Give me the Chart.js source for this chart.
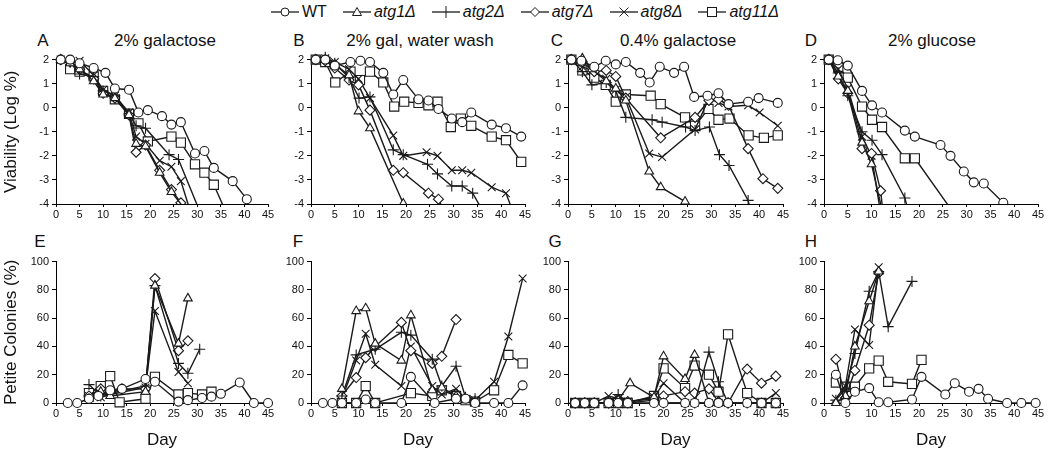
<!DOCTYPE html>
<html lang="en">
<head>
<meta charset="UTF-8">
<title>Viability and petite colonies of atg mutants</title>
<script src="https://cdn.jsdelivr.net/npm/chart.js"></script>
<style>
  body {
    margin: 0;
    width: 1050px;
    height: 451px;
    overflow: hidden;
    background: #fff;
    font-family: "Liberation Sans", Arial, sans-serif;
    color: #111;
    position: relative;
  }
  canvas { position: absolute; }
  .lbl {
    position: absolute;
    font-size: 17px;
    line-height: 1;
    transform: translate(-50%, -50%);
    white-space: nowrap;
  }
  #legend {
    position: absolute;
    top: 3px;
    left: 0;
    width: 1050px;
    display: flex;
    justify-content: center;
    align-items: center;
    font-size: 16px;
  }
  #legend .item { display: flex; align-items: center; margin: 0 8px; }
  #legend svg { margin-right: 3px; }
  #legend i { font-style: italic; }
</style>
</head>
<body>
  <div id="legend"></div>

  <div class="lbl" style="left:43px;top:40px">A</div>
  <div class="lbl" style="left:165px;top:40px">2% galactose</div>
  <div class="lbl" style="left:299px;top:40px">B</div>
  <div class="lbl" style="left:420px;top:40px">2% gal, water wash</div>
  <div class="lbl" style="left:557px;top:40px">C</div>
  <div class="lbl" style="left:678px;top:40px">0.4% galactose</div>
  <div class="lbl" style="left:811px;top:40px">D</div>
  <div class="lbl" style="left:932px;top:40px">2% glucose</div>
  <div class="lbl" style="left:40px;top:241px">E</div>
  <div class="lbl" style="left:298px;top:241px">F</div>
  <div class="lbl" style="left:555px;top:241px">G</div>
  <div class="lbl" style="left:811px;top:241px">H</div>

  <canvas id="cA"></canvas>
  <canvas id="cB"></canvas>
  <canvas id="cC"></canvas>
  <canvas id="cD"></canvas>
  <canvas id="cE"></canvas>
  <canvas id="cF"></canvas>
  <canvas id="cG"></canvas>
  <canvas id="cH"></canvas>

  <script>
    // strains, in legend order
    const strains = ['WT', 'atg1Δ', 'atg2Δ', 'atg7Δ', 'atg8Δ', 'atg11Δ'];

    // axis ticks
    const dayTicks = [0, 5, 10, 15, 20, 25, 30, 35, 40, 45];
    const viabilityTicks = [-4, -3, -2, -1, 0, 1, 2];
    const petiteTicks = [0, 20, 40, 60, 80, 100];

    // A: 2% galactose, viability (log %) -- [day, value]
    const A_WT = [[1,2],[3,2],[5,1.85],[8,1.65],[10.5,1.45],[12.5,0.8],[15.5,0.75],[17.5,-0.2],[19.5,-0.1],[22.5,-0.35],[24.5,-0.7],[26.5,-0.6],[29.5,-1.9],[31.5,-1.8],[33.5,-2.5],[37.5,-3.05],[40.5,-3.8]];
    const A_atg1 = [[1,2],[3,1.85],[5,1.6],[8,1.1],[10,0.55],[12.5,0.4],[15.5,-0.3],[17,-1.5],[19,-1.6],[22,-2.7],[24.5,-3.5],[28.5,-4.5]];
    const A_atg2 = [[1,2],[3,1.9],[5,1.4],[8,1.3],[10,0.7],[12.5,0.5],[15.5,-0.25],[17,-0.75],[19,-0.85],[24,-1.95],[26,-2.15],[30.5,-4.3]];
    const A_atg7 = [[1,2],[3,1.9],[5,1.6],[8,1.2],[10,0.6],[12.5,0.4],[15.5,-0.3],[17,-1.85],[19,-1.55],[22,-2.6],[24.5,-3.4],[26.5,-3.95],[27.5,-4.5]];
    const A_atg8 = [[1,2],[3,1.9],[5,1.95],[8,1.35],[10,0.75],[12.5,0.5],[15.5,-0.2],[17,-1.2],[19,-1.5],[22,-2.2],[24.5,-2.45],[26.5,-3.05],[29,-4.6]];
    const A_atg11 = [[3,1.6],[5,1.5],[8,1.3],[10,0.7],[12.5,0.35],[15.5,-0.25],[17.5,-0.65],[19.5,-1.4],[24.5,-1.2],[26.5,-1.45],[29.5,-2.35],[31.5,-2.7],[33.5,-3.2],[36,-4.3]];

    // B: 2% gal, water wash
    const B_WT = [[1,2],[3,2],[5,1.75],[8.3,1.9],[10.4,1.95],[12.4,1.9],[15.2,1.45],[17.3,0.55],[19.4,1.15],[22.6,0.35],[24.7,0.3],[26.8,-0.05],[29.6,-0.45],[31.8,-0.6],[33.7,-0.2],[38,-0.7],[41,-0.85],[44.2,-1.2]];
    const B_atg1 = [[1,2],[3,2],[5,1.8],[8,1.35],[10,-0.15],[12.4,-0.85],[19.4,-3.98],[20.5,-4.5]];
    const B_atg2 = [[1,2],[3,2.1],[5,1.85],[8,1.25],[10.1,0.4],[12.4,0.45],[17.3,-1.75],[19.4,-1.95],[24.5,-2.35],[26.6,-2.75],[29.6,-3.25],[31.8,-3.25],[34,-3.55],[37,-4.6]];
    const B_atg7 = [[1,2],[3,1.95],[5,1.65],[8,1.15],[10,0.95],[12.4,-0.1],[17.3,-2.6],[19.4,-2.7],[24.7,-3.55],[26.8,-3.8],[28.5,-4.5]];
    const B_atg8 = [[1,2],[3,2.05],[5,1.9],[8,1.6],[10,1.2],[12.4,0.4],[17.3,-1.15],[19.4,-2],[24.3,-1.85],[26.6,-2],[29.6,-2.6],[31.8,-2.6],[33.7,-2.7],[38,-3.3],[41,-3.55],[43,-4.6]];
    const B_atg11 = [[1,2],[3,1.9],[5.1,1.05],[8.3,1.5],[10.3,1.15],[12.4,1.5],[15.2,1.05],[17.5,0.05],[19.6,0.25],[22.6,0.2],[24.7,0.1],[26.6,0.25],[29.4,-0.8],[31.5,-0.45],[33.7,-0.75],[38,-1.2],[41,-1.35],[44.2,-2.25]];

    // C: 0.4% galactose
    const C_WT = [[0.7,2],[2.8,1.95],[5.5,1.7],[7.9,1.95],[10,1.8],[12.1,1.9],[15.1,1.45],[17.1,1.05],[19.2,1.7],[22.2,1.45],[24.3,1.7],[26.4,0.45],[29.2,0.5],[31.5,0.6],[33.6,0.15],[37.7,0.25],[39.9,0.4],[43.9,0.2]];
    const C_atg1 = [[0.7,2],[3,2.05],[5,1.6],[8,1.1],[10,0.8],[12.1,0.3],[17,-2.65],[19.4,-3.3],[24.5,-3.9],[26.5,-4.5]];
    const C_atg2 = [[0.7,2],[3,1.5],[5,0.95],[8,1.05],[10,0.7],[12.1,-0.4],[17.6,-0.5],[19.7,-0.6],[24.6,-0.8],[26.6,-0.95],[29.6,-0.8],[31.7,-1.95],[33.7,-2.4],[37.7,-3.85],[38.5,-4.5]];
    const C_atg7 = [[0.7,2],[3,1.9],[5.5,1.5],[8,1.55],[10,1.3],[12.1,0.4],[19.4,-1.25],[26.6,-0.4],[29.5,0.3],[31.5,0.35],[33.6,0.1],[37.7,-1.7],[40.8,-2.95],[43.9,-3.35]];
    const C_atg8 = [[0.7,2],[3,1.7],[5,1.55],[8,1.2],[10,0.75],[12.1,0.45],[17,-1.9],[19.7,-2.05],[26.6,-0.9],[29.5,0.4],[31.5,0.2],[33.6,0.05],[37.7,0.1],[40.1,-0.2],[43.9,-0.75]];
    const C_atg11 = [[0.7,2],[3,1.55],[5.5,1.25],[7.9,0.95],[10,0.25],[12.1,0.55],[17.3,0.5],[19.4,0.15],[24.5,-0.4],[26.6,-0.75],[29.4,-0.05],[31.5,-0.5],[33.8,-0.45],[37.8,-1.15],[41,-1.25],[43.9,-1.15]];

    // D: 2% glucose
    const D_WT = [[1,2],[2.9,1.97],[5,1.75],[8,0.7],[10.1,0.1],[12.2,-0.2],[17,-0.95],[19.1,-1.2],[24.5,-1.55],[26.6,-2],[29.4,-2.65],[31.5,-3.1],[33.6,-3.15],[37.7,-3.95]];
    const D_atg1 = [[1,2],[3,1.3],[5,0.7],[8,-1.45],[10,-2.35],[12.5,-4.5]];
    const D_atg2 = [[1,2],[3,1.45],[5,0.5],[8,-1.0],[10.1,-1.35],[12.2,-1.95],[17,-3.75],[18,-4.5]];
    const D_atg7 = [[1,2],[3,1.2],[5,0.6],[8,-1.7],[10,-1.9],[11.9,-3.45],[12.5,-4.5]];
    const D_atg8 = [[1,2],[3,1.6],[5,0.8],[8,-1.2],[10,-2.0],[12,-4.5]];
    const D_atg11 = [[1,2],[3,1.7],[5,1.25],[8,0.05],[10.1,-0.5],[12.2,-0.8],[17,-2.1],[19.1,-2.1],[27,-4.3]];

    // E-H: petite colonies (%)
    const E_WT = [[2.5,0],[4.5,0],[7,3],[9,5],[11.5,9],[14,10],[19,17],[21,15],[26,1],[28,2],[31,3.5],[33,4.5],[35,6.5],[39,14.5],[42,0],[45,0]];
    const E_atg1 = [[7,3],[9.5,8],[11.5,5],[19,8],[21,83],[26,42],[28,74]];
    const E_atg2 = [[7,13],[9.5,5],[11.5,7],[19,12],[21,83],[26,28],[28,21],[30.5,38]];
    const E_atg7 = [[7,5],[9.5,10],[11.5,8],[14,10],[19,10],[21,88],[26,37],[28,44]];
    const E_atg8 = [[7,5],[9.5,4],[11.5,6],[19,11],[21,65],[26,22],[28,14]];
    const E_atg11 = [[7,7],[9.5,12],[11.5,19],[13.5,0.5],[19,3],[21,18.5],[26,6],[28,7],[31,6],[33,8]];

    const F_WT = [[2.5,0],[4.5,0],[6.5,0],[9.5,0],[11.5,2.5],[13.5,0],[19,0],[21,18.5],[26,0],[30.5,3],[32.5,3],[34.5,0],[38.5,0],[41.5,0],[44.5,12.5]];
    const F_atg1 = [[6.5,10],[9.5,65],[11.5,67],[13.5,42],[19,30],[21,62],[25.5,9],[27.5,11],[30.5,5],[32.5,2],[34.5,1]];
    const F_atg2 = [[6.5,5],[9.5,34],[13.5,38],[19,50],[21,48],[25.5,31],[27.5,12],[30.5,26],[32.5,4],[34.5,3]];
    const F_atg7 = [[6.5,5],[9.5,18],[11.5,32],[13.5,40],[19,57],[21,37],[25.5,28],[27.5,33],[30.5,59]];
    const F_atg8 = [[6.5,3],[9.5,30],[11.5,49],[13.5,27],[19,12],[21,40],[25.5,12],[27.5,6],[30.5,10],[32.5,3],[34.5,2],[38.5,15],[41.5,47],[44.5,88]];
    const F_atg11 = [[6.5,0],[9.5,0],[11.5,12],[13.5,0],[21,7],[25.5,5],[27.5,9],[30.5,5],[32.5,2],[34.5,1],[38.5,9],[41.5,34],[44.5,28]];

    const G_WT = [[1.5,0],[3.5,0],[5.5,0],[8.5,0],[10.5,0],[12.5,0],[18,0],[20,0],[24.5,0],[26.5,0],[29.5,0],[31.5,0],[33.5,0],[37.5,0],[40.5,0],[43.5,0]];
    const G_atg1 = [[1.5,0],[3.5,0],[5.5,0],[8.5,0],[10.5,2],[13,14],[18,4],[20,33],[24.5,17],[26.5,34],[29.5,0],[31.5,0],[33.5,0]];
    const G_atg2 = [[1.5,0],[3.5,0],[5.5,0],[8.5,0],[10.5,6],[12.5,0],[18,2],[20,0],[24.5,0],[26.5,0],[29.5,36],[31.5,15],[33.5,0],[37.5,0],[40.5,0],[43.5,0]];
    const G_atg7 = [[1.5,0],[3.5,0],[5.5,0],[8.5,0],[10.5,0],[12.5,1],[18,3],[20,5],[24.5,8],[26.5,7],[29.5,10],[31.5,1],[33.5,0],[37.5,24],[40.5,14],[43.5,19]];
    const G_atg8 = [[1.5,0],[3.5,0],[5.5,0],[8.5,5],[10.5,3],[12.5,1],[18,4],[20,14],[24.5,0],[26.5,0],[29.5,0],[31.5,0],[33.5,0],[37.5,0],[40.5,0],[43.5,7]];
    const G_atg11 = [[1.5,0],[3.5,0],[5.5,0],[8.5,0],[10.5,0],[12.5,0],[18,5],[20,24.5],[24.5,10.5],[26.5,26.5],[29.5,20],[31.5,8],[33.5,48.5],[37.5,7],[40.5,0],[43.5,0]];

    const H_WT = [[2.5,20],[4.5,0],[6.5,8],[9.5,10.5],[11.5,0.5],[13.5,0.5],[18.5,2.5],[20.5,18.5],[25.5,6],[27.5,14],[30.5,8],[32.5,10],[34.5,3],[38.5,0],[41.5,0],[44.5,0]];
    const H_atg1 = [[2.5,0],[4.5,5],[6.5,40],[9.5,72],[11.5,93]];
    const H_atg2 = [[2.5,2],[4.5,10],[6.5,35],[9.5,79],[11.5,93],[13.5,54],[18.5,86]];
    const H_atg7 = [[2.5,31],[4.5,3.5],[6.5,23],[9.5,55],[11.5,92]];
    const H_atg8 = [[2.5,3],[4.5,12],[6.5,52],[9.5,41],[11.5,96]];
    const H_atg11 = [[2.5,14.5],[4.5,11.5],[6.5,11.5],[9.5,24.5],[11.5,30],[13.5,15],[18.5,13.5],[20.5,30.5]];

    // marker for each strain
    const markers = [
      { pointStyle: 'circle', radius: 4.5 },
      { pointStyle: 'triangle', radius: 5 },
      { pointStyle: 'cross', radius: 5.5 },
      { pointStyle: 'rectRot', radius: 5 },
      { pointStyle: 'crossRot', radius: 5.5 },
      { pointStyle: 'rect', radius: 6.5 }
    ];
    const ink = '#1a1a1a';
    const fontFamily = '"Liberation Sans", Arial, sans-serif';

    function makePanel(id, x0, x45, top, series, cfg) {
      const yAxisW = 56, padTop = 9, padRight = 14;
      const canvas = document.getElementById(id);
      const w = (x45 - x0) + yAxisW + padRight;
      const h = (cfg.bottom - (top - padTop)) + cfg.xAxisH;
      canvas.width = w;
      canvas.height = h;
      canvas.style.left = (x0 - yAxisW) + 'px';
      canvas.style.top = (top - padTop) + 'px';
      canvas.style.width = w + 'px';
      canvas.style.height = h + 'px';

      const datasets = series.map((pts, i) => ({
        label: strains[i],
        data: pts.map(p => ({ x: p[0], y: p[1] })),
        showLine: true,
        borderColor: ink,
        borderWidth: 1.4,
        pointStyle: markers[i].pointStyle,
        pointRadius: markers[i].radius,
        pointBackgroundColor: '#fff',
        pointBorderColor: ink,
        pointBorderWidth: 1.1,
        clip: { left: 10, top: 10, right: 10, bottom: cfg.clipBottom }
      }));

      new Chart(canvas, {
        type: 'scatter',
        data: { datasets: datasets },
        options: {
          responsive: false,
          animation: false,
          events: [],
          layout: { padding: { top: padTop, right: padRight, bottom: 0, left: 0 } },
          plugins: { legend: { display: false }, tooltip: { enabled: false } },
          scales: {
            x: {
              type: 'linear',
              min: 0,
              max: 45,
              afterBuildTicks: s => { s.ticks = dayTicks.map(v => ({ value: v })); },
              afterFit: s => { s.height = cfg.xAxisH; },
              ticks: { font: { size: 11, family: fontFamily }, color: '#111', padding: 1, maxRotation: 0 },
              grid: { drawOnChartArea: false, drawTicks: true, tickLength: 3, color: '#000' },
              border: { color: '#000', width: 1 },
              title: {
                display: !!cfg.xTitle,
                text: cfg.xTitle || '',
                font: { size: 17, family: fontFamily },
                color: '#111',
                padding: { top: 0, bottom: 0 }
              }
            },
            y: {
              min: cfg.yTicks[0],
              max: cfg.yTicks[cfg.yTicks.length - 1],
              afterBuildTicks: s => { s.ticks = cfg.yTicks.map(v => ({ value: v })); },
              afterFit: s => { s.width = yAxisW; },
              ticks: { font: { size: 11, family: fontFamily }, color: '#111', padding: 3 },
              grid: { drawOnChartArea: false, drawTicks: true, tickLength: 4, color: '#000' },
              border: { color: '#000', width: 1 },
              title: {
                display: !!cfg.yTitle,
                text: cfg.yTitle || '',
                font: { size: 17, family: fontFamily },
                color: '#111',
                padding: { top: 1, bottom: 0 }
              }
            }
          }
        }
      });
    }

    const topCfg = { bottom: 204, xAxisH: 22, yTicks: viabilityTicks, clipBottom: 0 };
    const botCfg = { bottom: 403, xAxisH: 48, yTicks: petiteTicks, clipBottom: 10, xTitle: 'Day' };

    makePanel('cA', 56, 268, 59, [A_WT, A_atg1, A_atg2, A_atg7, A_atg8, A_atg11], { ...topCfg, yTitle: 'Viability (Log %)' });
    makePanel('cB', 311, 525, 59, [B_WT, B_atg1, B_atg2, B_atg7, B_atg8, B_atg11], topCfg);
    makePanel('cC', 568, 783, 59, [C_WT, C_atg1, C_atg2, C_atg7, C_atg8, C_atg11], topCfg);
    makePanel('cD', 824, 1038, 59, [D_WT, D_atg1, D_atg2, D_atg7, D_atg8, D_atg11], topCfg);

    makePanel('cE', 56, 268, 261, [E_WT, E_atg1, E_atg2, E_atg7, E_atg8, E_atg11], { ...botCfg, yTitle: 'Petite Colonies (%)' });
    makePanel('cF', 311, 525, 261, [F_WT, F_atg1, F_atg2, F_atg7, F_atg8, F_atg11], botCfg);
    makePanel('cG', 568, 783, 261, [G_WT, G_atg1, G_atg2, G_atg7, G_atg8, G_atg11], botCfg);
    makePanel('cH', 824, 1038, 261, [H_WT, H_atg1, H_atg2, H_atg7, H_atg8, H_atg11], botCfg);

    // legend: line with marker, then the strain name (mutants in italics)
    const symbolSvg = {
      circle: '<circle cx="14" cy="7" r="4" fill="#fff" stroke="#1a1a1a"/>',
      triangle: '<polygon points="14,2.5 18.5,10.5 9.5,10.5" fill="#fff" stroke="#1a1a1a"/>',
      cross: '<line x1="14" y1="1" x2="14" y2="13" stroke="#1a1a1a"/>',
      rectRot: '<polygon points="14,2.5 18.5,7 14,11.5 9.5,7" fill="#fff" stroke="#1a1a1a"/>',
      crossRot: '<line x1="9.5" y1="2.5" x2="18.5" y2="11.5" stroke="#1a1a1a"/><line x1="18.5" y1="2.5" x2="9.5" y2="11.5" stroke="#1a1a1a"/>',
      rect: '<rect x="9.5" y="2.5" width="9" height="9" fill="#fff" stroke="#1a1a1a"/>'
    };
    const legend = document.getElementById('legend');
    strains.forEach((name, i) => {
      const item = document.createElement('div');
      item.className = 'item';
      const svg = '<svg width="28" height="14"><line x1="0" y1="7" x2="28" y2="7" stroke="#1a1a1a" stroke-width="1.3"/>' +
        symbolSvg[markers[i].pointStyle] + '</svg>';
      const text = i === 0 ? '<span>' + name + '</span>' : '<i>' + name + '</i>';
      item.innerHTML = svg + text;
      legend.appendChild(item);
    });
  </script>
</body>
</html>
